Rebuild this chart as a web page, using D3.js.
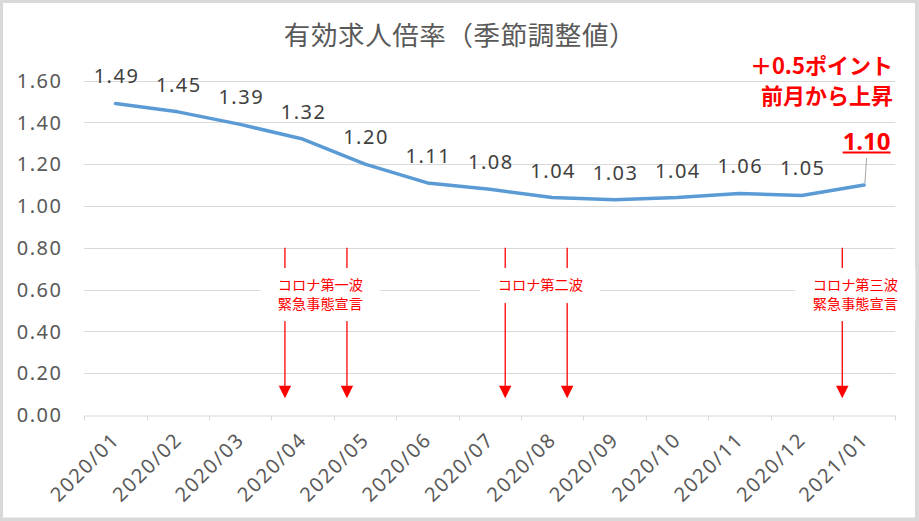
<!DOCTYPE html>
<html><head><meta charset="utf-8">
<script src="https://cdn.jsdelivr.net/npm/d3@7"></script>
<style>
html,body{margin:0;padding:0;background:#fff;}
svg{display:block;}
</style></head>
<body>
<div id="chart"></div>
<script>
const title = "有効求人倍率（季節調整値）";
const categories = ["2020/01","2020/02","2020/03","2020/04","2020/05","2020/06","2020/07","2020/08","2020/09","2020/10","2020/11","2020/12","2021/01"];
const values = [1.49,1.45,1.39,1.32,1.20,1.11,1.08,1.04,1.03,1.04,1.06,1.05,1.10];
const yTicks = [0,0.2,0.4,0.6,0.8,1.0,1.2,1.4,1.6];
const annoTexts = [["コロナ第一波","緊急事態宣言"],["コロナ第二波"],["コロナ第三波","緊急事態宣言"]];
const annoArrows = [[2.716,3.71],[6.247,7.24],[11.65]];   // positions in category-index units
const annoCenters = [3.285,6.81,11.86];
const noteLines = ["＋0.5ポイント","前月から上昇"];

const W = 919, H = 521;
const m = {left:84.3, right:W-895.3, top:80, bottom:H-415};
const svg = d3.select("#chart").append("svg").attr("width",W).attr("height",H);

// frame
svg.append("rect").attr("x",0).attr("y",0).attr("width",W).attr("height",H).attr("fill","#d9d9d9");
svg.append("rect").attr("x",3).attr("y",3).attr("width",912).attr("height",514.5).attr("fill","#fff");

const x = d3.scaleBand().domain(categories).range([m.left, W-m.right]).paddingInner(0).paddingOuter(0);
const xi = d3.scaleLinear().domain([-0.5, categories.length-0.5]).range([m.left, W-m.right]);
const y = d3.scaleLinear().domain([0,1.6]).range([415, 80.5]);

const numFont = "'Noto Sans', sans-serif";
const jpFont = "'Noto Sans CJK JP', 'Noto Sans', sans-serif";

// gridlines
svg.append("g").selectAll("line").data(yTicks.filter(d=>d>0)).join("line")
  .attr("x1",m.left).attr("x2",W-m.right)
  .attr("y1",d=>Math.round(y(d))+0.5).attr("y2",d=>Math.round(y(d))+0.5)
  .attr("stroke","#d9d9d9").attr("stroke-width",1);

// y axis labels
svg.append("g").selectAll("text").data(yTicks).join("text")
  .attr("x",62.5).attr("y",d=>y(d)).attr("dy","0.36em")
  .attr("text-anchor","end")
  .attr("font-family",numFont).attr("font-size",20).attr("letter-spacing",1.5)
  .attr("fill","#595959")
  .text(d=>d3.format(".2f")(d));

// x axis
const xAxis = d3.axisBottom(x).tickSize(0).tickFormat("");
const gx = svg.append("g").attr("transform",`translate(0,${Math.round(y(0))+0.5})`).call(xAxis);
gx.select(".domain").attr("stroke","#d9d9d9").attr("stroke-width",1);
const bounds = categories.map(c=>x(c)).concat([x(categories[categories.length-1])+x.bandwidth()]);
gx.append("g").selectAll("line").data(bounds).join("line")
  .attr("x1",d=>Math.round(d)+0.5).attr("x2",d=>Math.round(d)+0.5)
  .attr("y1",0).attr("y2",5).attr("stroke","#d9d9d9");
// rotated labels
svg.append("g").selectAll("text").data(categories).join("text")
  .attr("transform",d=>`translate(${x(d)+x.bandwidth()/2-4.5},${431}) rotate(-45)`)
  .attr("text-anchor","end")
  .attr("dy","0.7em")
  .attr("font-family",numFont).attr("font-size",20).attr("letter-spacing",1.7)
  .attr("fill","#595959")
  .text(d=>d);

// annotations (arrows)
const red = "#ff0000";
annoArrows.forEach((arr,gi)=>{
  arr.forEach(p=>{
    const px = xi(p);
    svg.append("line").attr("x1",px).attr("x2",px).attr("y1",y(0.8)).attr("y2",y(0.08)-10)
      .attr("stroke",red).attr("stroke-width",1.3);
    const tip = y(0.08);
    svg.append("path").attr("d",`M${px-6.2},${tip-12.5}L${px+6.2},${tip-12.5}L${px},${tip}Z`).attr("fill",red);
  });
});
annoTexts.forEach((lines,gi)=>{
  const cx = xi(annoCenters[gi]);
  const h = 17 + 18*lines.length;
  const top = y(0.6) - 21.5;
  svg.append("rect").attr("x",cx-60).attr("y",top).attr("width",120).attr("height",h).attr("fill","#fff");
  lines.forEach((t,li)=>{
    svg.append("text").attr("x",cx).attr("y",top+22+li*18.5)
      .attr("text-anchor","middle")
      .attr("font-family",jpFont).attr("font-size",14.2)
      .attr("fill",red).text(t);
  });
});

// line
const line = d3.line().x((d,i)=>x(categories[i])+x.bandwidth()/2).y(d=>y(d));
svg.append("path").datum(values).attr("d",line)
  .attr("fill","none").attr("stroke","#5b9bd5").attr("stroke-width",3.5)
  .attr("stroke-linejoin","round").attr("stroke-linecap","round");

// data labels
const last = values.length-1;
svg.append("g").selectAll("text").data(values.slice(0,last)).join("text")
  .attr("x",(d,i)=>x(categories[i])+x.bandwidth()/2+1)
  .attr("y",d=>y(d)-20)
  .attr("text-anchor","middle")
  .attr("font-family",numFont).attr("font-size",20).attr("letter-spacing",1.5)
  .attr("fill","#404040")
  .text(d=>d3.format(".2f")(d));

// last label (highlighted)
const lx = x(categories[last])+x.bandwidth()/2;
const ly = y(values[last]);
svg.append("line").attr("x1",lx+2.5).attr("y1",158).attr("x2",lx+0.8).attr("y2",ly-2)
  .attr("stroke","#a6a6a6").attr("stroke-width",1);
const lt = svg.append("text").attr("x",lx+2.5).attr("y",150)
  .attr("text-anchor","middle")
  .attr("font-family",numFont).attr("font-size",24).attr("font-weight","bold")
  .attr("fill",red).text(d3.format(".2f")(values[last]));
const bb = lt.node().getBBox();
svg.append("line").attr("x1",bb.x).attr("x2",bb.x+bb.width).attr("y1",152.5).attr("y2",152.5)
  .attr("stroke",red).attr("stroke-width",2);

// note
noteLines.forEach((t,i)=>{
  svg.append("text").attr("x",893).attr("y",74+i*30)
    .attr("text-anchor","end")
    .attr("font-family",jpFont).attr("font-size",22).attr("font-weight","bold")
    .attr("fill",red).text(t);
});

// title
svg.append("text").attr("x",460).attr("y",45)
  .attr("text-anchor","middle")
  .attr("font-family",jpFont).attr("font-size",26.5).attr("letter-spacing",0.6)
  .attr("fill","#595959").text(title);
</script>
</body></html>
